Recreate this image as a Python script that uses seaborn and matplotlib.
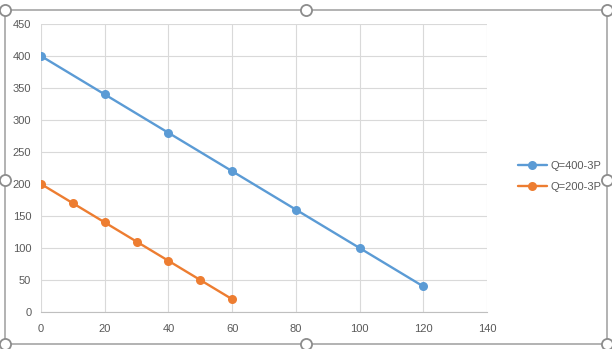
import matplotlib
matplotlib.use("Agg")
import matplotlib.pyplot as plt
import seaborn as sns
import pandas as pd

# Data
series1_name = "Q=400-3P"
series1_x = [0, 20, 40, 60, 80, 100, 120]
series1_y = [400, 340, 280, 220, 160, 100, 40]
series2_name = "Q=200-3P"
series2_x = [0, 10, 20, 30, 40, 50, 60]
series2_y = [200, 170, 140, 110, 80, 50, 20]
x_ticks = [0, 20, 40, 60, 80, 100, 120, 140]
y_ticks = [0, 50, 100, 150, 200, 250, 300, 350, 400, 450]

df = pd.DataFrame({
    "x": series1_x + series2_x,
    "y": series1_y + series2_y,
    "series": [series1_name] * len(series1_x) + [series2_name] * len(series2_x),
})

sns.set_theme(style="white")
plt.rcParams["font.family"] = ["Liberation Sans", "DejaVu Sans"]

fig = plt.figure(figsize=(6.12, 3.49), dpi=100)
fig.patch.set_facecolor("white")
ax = fig.add_axes([41/612, 1 - 312/349, (487 - 41)/612, (312 - 24)/349])

palette = {series1_name: "#5B9BD5", series2_name: "#ED7D31"}
sns.lineplot(data=df, x="x", y="y", hue="series", palette=palette, marker="o",
             markersize=6.5, markeredgewidth=0, linewidth=1.7, ax=ax, legend=True,
             sort=False)

ax.set_xlim(0, 140)
ax.set_ylim(0, 450)
ax.set_xticks(x_ticks)
ax.set_yticks(y_ticks)
ax.set_xlabel("")
ax.set_ylabel("")
ax.grid(True, color="#d9d9d9", linewidth=0.8)
ax.set_axisbelow(True)
for s in ["top", "right", "left"]:
    ax.spines[s].set_visible(False)
ax.spines["bottom"].set_color("#bfbfbf")
ax.spines["bottom"].set_linewidth(0.8)
ax.tick_params(axis="both", length=0, labelsize=8, labelcolor="#595959")
ax.tick_params(axis="x", pad=9)
ax.tick_params(axis="y", pad=7)

handles, labels = ax.get_legend_handles_labels()
ax.get_legend().remove()
leg = fig.legend(handles, labels, loc="center left", bbox_to_anchor=(0.83, 0.495),
                 frameon=False, fontsize=8, handlelength=2.6, labelspacing=1.0,
                 handletextpad=0.3)
for t in leg.get_texts():
    t.set_color("#595959")

# chart frame with selection handles
fig.add_artist(plt.Rectangle((5/612, 5/349), (607 - 5)/612, (339 - 5)/349,
                             transform=fig.transFigure, fill=False,
                             edgecolor="#a6a6a6", linewidth=1.2))
for (px, py) in [(5, 10), (306, 10), (607, 10), (5, 180), (607, 180),
                 (5, 344), (306, 344), (607, 344)]:
    fig.add_artist(plt.Line2D([px/612], [1 - py/349], marker="o", markersize=8,
                              markerfacecolor="white", markeredgecolor="#8c8c8c",
                              markeredgewidth=1.3, transform=fig.transFigure))

fig.savefig("out.png", dpi=100, facecolor="white")
